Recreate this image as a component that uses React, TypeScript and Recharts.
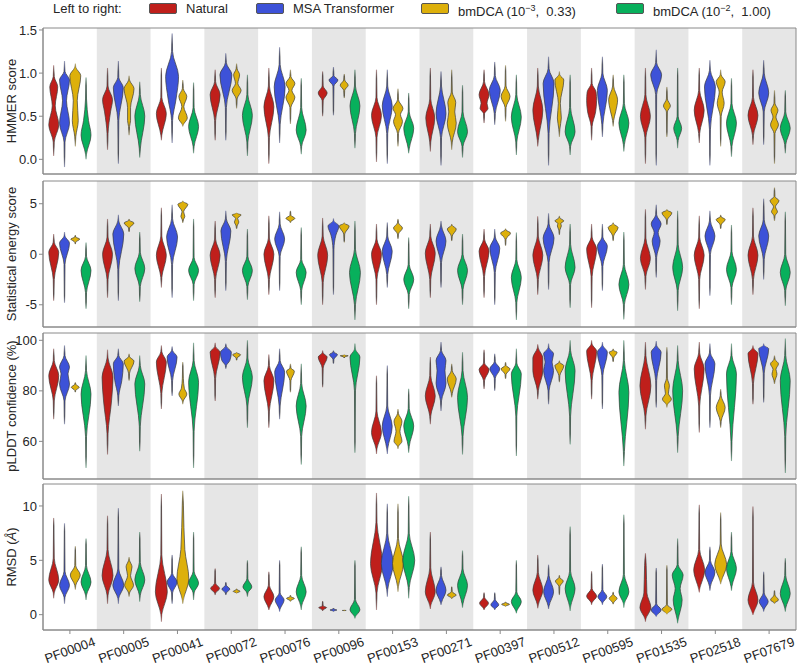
import React from "react";
import { Area, ComposedChart, ReferenceArea, XAxis, YAxis } from "recharts";

const FAMILIES = [
  "PF00004", "PF00005", "PF00041", "PF00072", "PF00076", "PF00096", "PF00153",
  "PF00271", "PF00397", "PF00512", "PF00595", "PF01535", "PF02518", "PF07679",
];

const METHOD_COLORS = ["#bf1f1b", "#3d52d8", "#ddb00b", "#08b05c"];
// dodge offsets of the four violins inside one family slot
const METHOD_OFFSETS = [-0.3, -0.1, 0.1, 0.3];

// Each violin: "low a  y:w y:w ...  b high" (bottom tail end, body start, knots of
// value:half-width, body end, top tail end). Half-widths are in 1/54 of a slot.
const HMMER_VIOLINS = [
  ["0.04 0.2 0.4:5 0.62:1.5 0.84:4 0.96 1.09", "-0.09 0.2 0.42:5 0.68:2 0.92:5 1.02 1.14", "0.15 0.26 0.45:3 0.68:2 0.97:5.5 1.07 1.11", "0.0 0.06 0.28:5 0.45:2.5 0.7 0.95"],
  ["0.11 0.3 0.55:3 0.69:5 0.85 1.06", "-0.05 0.45 0.83:5 0.95 1.14", "0.28 0.38 0.45:1.5 0.6:1.5 0.82:5 0.92 0.97", "0.02 0.12 0.5:5 0.75 0.9"],
  ["0.22 0.28 0.53:5 0.72 1.06", "0.19 0.45 0.7:4 0.96:6.5 1.25 1.46", "0.38 0.4 0.48:4.5 0.61:1 0.73:4 0.82 0.92", "0.07 0.15 0.38:5 0.6 0.89"],
  ["0.22 0.45 0.75:5 0.9 1.04", "0.22 0.6 0.98:6 1.12 1.23", "0.59 0.7 0.8:4.5 0.88:1.2 0.98:3 1.05 1.11", "0.04 0.2 0.51:5 0.75 0.98"],
  ["-0.05 0.25 0.61:5 0.85 1.06", "0.19 0.4 0.84:5.5 1.1 1.3", "0.41 0.6 0.72:4.5 0.8:1.5 0.88:4.5 0.96 1.04", "0.06 0.15 0.34:5 0.6 0.94"],
  ["0.5 0.68 0.77:4.5 0.85 1.02", "0.51 0.85 0.92:4.5 0.97 1.07", "0.71 0.8 0.86:4 0.92 0.99", "0.13 0.3 0.62:5 0.85 1.04"],
  ["-0.03 0.25 0.51:5 0.72 1.04", "-0.05 0.3 0.62:5 0.85 1.04", "0.15 0.3 0.44:4.5 0.52:2.5 0.59:5 0.69 0.82", "0.07 0.12 0.36:5 0.55 0.77"],
  ["0.09 0.2 0.48:4.5 0.7 1.06", "-0.07 0.25 0.53:5 0.85 1.02", "0.11 0.2 0.42:4.5 0.55:3 0.66:4 0.78 1.04", "0.02 0.15 0.32:5 0.55 0.86"],
  ["0.42 0.53 0.59:4 0.65:3 0.75:5 0.9 1.04", "0.4 0.53 0.8:5.5 0.97 1.13", "0.44 0.6 0.73:4.5 0.85 1.09", "0.05 0.2 0.49:5 0.75 0.98"],
  ["0.15 0.22 0.57:5 0.85 1.06", "-0.07 0.3 0.88:5.5 1.05 1.19", "0.26 0.35 0.48:2 0.65:1 0.92:4.5 0.98 1.02", "0.05 0.15 0.32:5 0.6 0.98"],
  ["0.22 0.38 0.55:4 0.68:5 0.78:4.5 0.88 1.06", "0.26 0.4 0.8:5 1.0 1.19", "0.38 0.45 0.55:2.5 0.69:4.5 0.85 0.98", "0.09 0.17 0.42:5 0.65 0.98"],
  ["-0.05 0.25 0.5:5 0.75 1.06", "-0.07 0.75 0.98:5.5 1.12 1.27", "0.26 0.55 0.62:3.5 0.7 0.84", "0.13 0.22 0.36:4 0.5 1.06"],
  ["0.19 0.3 0.57:5 0.8 1.06", "-0.07 0.35 0.84:5.5 1.03 1.15", "0.15 0.5 0.65:3.5 0.78:1.5 0.9:4.5 0.98 1.04", "0.03 0.15 0.42:5 0.65 0.94"],
  ["0.17 0.28 0.51:5 0.72 1.04", "0.17 0.55 0.77:5 1.0 1.15", "-0.05 0.3 0.4:4 0.49:1.5 0.57:3.5 0.65 0.8", "0.07 0.17 0.36:5 0.55 0.8"],
];

const ENERGY_VIOLINS = [
  ["-4.6 -2.5 0.2:5 1.2 2.0", "-4.8 -1.0 1.1:5 1.8 2.2", "1.0 1.2 1.5:4.5 1.7 1.9", "-5.4 -3.8 -1.6:5 -0.2 1.16"],
  ["-4.3 -2.5 0:5 1.7 3.5", "-4.6 -1.5 2.0:5.5 3.3 3.9", "2.2 2.6 3.1:5 3.35 3.5", "-4.7 -3.2 -1.4:5 0.2 2.2"],
  ["-3.3 -2.3 -0.1:5 1.8 4.6", "-4.3 -1.0 1.7:5.5 3.5 4.9", "3.1 3.4 3.75:2 4.2:0.8 4.95:5 5.2 5.3", "-4.6 -3.0 -1.6:5 -0.3 3.5"],
  ["-4.3 -2.5 -0.1:5 1.5 3.3", "-3.6 -0.7 2.3:5 3.5 4.3", "2.5 2.8 3.2:2.2 3.55:1 3.9:4.5 4.05 4.1", "-4.5 -3.2 -1.6:5 -0.2 2.5"],
  ["-4.0 -2.5 0:5 1.6 3.8", "-3.6 -0.2 1.5:5 3.0 4.2", "3.1 3.25 3.55:4.5 3.85 4.3", "-5.0 -3.6 -1.8:5 -0.5 2.65"],
  ["-5.0 -2.8 -0.1:5 1.8 3.6", "-4.0 0.5 1.9:2.5 2.8:5.5 3.3 3.55", "1.16 2.0 2.8:5 3.05 3.15", "-6.5 -5.0 -1.8:5.5 0.5 3.3"],
  ["-5.0 -2.5 0:5 1.5 3.0", "-3.3 -2.0 0.3:5 1.8 3.15", "1.5 2.0 2.6:4.5 3.1 3.5", "-5.4 -4.0 -2.5:5 -1.0 1.66"],
  ["-4.3 -2.5 0.1:5 1.8 3.0", "-3.3 -0.8 1.3:5 2.8 3.3", "1.3 1.8 2.5:4.5 2.85 3.0", "-5.0 -3.5 -1.6:5 0 2.0"],
  ["-4.3 -2.2 0.3:5 1.5 2.5", "-5.0 -1.8 0.6:5 1.7 2.5", "0.83 1.5 2.1:5 2.4 2.55", "-6.5 -4.8 -2.3:5 -0.5 2.15"],
  ["-4.0 -2.5 -0.1:5 1.8 3.75", "-3.5 -0.8 1.6:5.5 3.0 4.05", "1.9 2.4 2.8:2 3.05:1.5 3.3:4.5 3.6 3.8", "-5.3 -3.0 -1.3:5 1.0 3.0"],
  ["-5.3 -2.2 0.5:5 1.7 3.0", "-3.6 -1.2 0.8:5 1.7 3.0", "1.3 1.8 2.65:5 3.0 3.15", "-6.45 -5.0 -3.0:5 -1.0 2.2"],
  ["-3.5 -2.2 -0.4:5 1.6 4.45", "-2.3 -0.3 1.3:4 2.15:2 3.0:5 3.9 4.9", "2.9 3.4 4.1:5 4.35 4.45", "-5.6 -3.6 -1.3:5 1.0 4.3"],
  ["-5.4 -2.5 -0.1:5 1.7 3.8", "-4.1 0.0 1.8:5 3.3 4.3", "2.5 2.9 3.45:4.5 3.7 3.9", "-5.0 -3.3 -1.5:5 0.3 2.9"],
  ["-4.0 -2.5 -0.1:5 1.8 4.6", "-2.5 -0.5 1.8:5 3.4 5.5", "3.3 3.8 4.2:3 4.7:1 5.3:4.5 5.7 6.6", "-5.1 -3.6 -1.8:5 0 4.2"],
];

const PLDDT_VIOLINS = [
  ["68.8 76 86:5 92 96.7", "66.8 76 82.7:5 86.7:3.5 89.4:5 94 98", "79.4 80.2 81.4:4 82.6 83.4", "49.5 62 78.7:5 88 94"],
  ["54.8 63 76:4 85.4:5.5 93 96.3", "74 78 84:3.5 90.7:5 94 96.7", "84 87 91.8:5 93.5 94.7", "56.1 66 82.7:5 90 94"],
  ["72.8 79 91.4:5 95.5 98", "78 84 93.4:5 96 97.6", "74.7 76 78.7:4 81:1.5 85 91.4", "49.5 64 83.4:5 92 99"],
  ["76 85 95.3:5 97.5 99", "88.7 90 92:4 95.3:5.5 97.5 98.7", "92 93 94.3:4 95 95.3", "65.4 74 85.4:5 93 100"],
  ["65.4 72 84:5 90 94.4", "68.8 74 87.4:5 92 96.7", "79.4 84 87.8:4 89 90.7", "50.8 62 74:5 83 90.7"],
  ["81.4 89 93.4:4.5 95 96", "90.7 92.5 94.4:4 95.3 96", "93 93.4 93.9:4 94.2 94.4", "55.5 80 93.4:5 96.5 98.7"],
  ["55 57 63.5:5 72 86", "55 57 66:5 74 90", "57 58 60:4 64:2 68:4 71 72.8", "55.5 58 66.1:5 73 80.8"],
  ["66.8 70 78:5 86 93.4", "72 76 83:5 88:4 92:5 96 99.3", "77.4 79 84.7:4.5 88 90.7", "54.8 62 77.4:5 88 95.3"],
  ["80.7 84 88.4:5 91 96.3", "80 85 88.7:5 91.5 94.7", "84.7 86.5 88.7:4.5 90 91.4", "54.2 70 86.7:5 91 96.7"],
  ["76.7 80 88:5 93:5 97 98.4", "74.7 80 88:5 91.4:3.5 94.7:5 97 98.7", "83.4 86 90:4.5 91.2 92", "58.8 70 88:5 96 100"],
  ["76.7 84 95.7:5 98.5 100", "72.8 86 95.3:5 98 99.3", "91.4 93 95.3:4 96 96.7", "50.2 56 79.4:5 92 100"],
  ["64.8 70 82:5.5 94 99.3", "73.4 84 95.3:5 98 99.7", "73.4 74.5 76.7:4.5 79:1.5 82:2.5 85 97.3", "55.5 62 80:5 92 98"],
  ["63.5 74 88.7:5 95 99.3", "65.4 78 90.7:5 95 98.7", "65.4 68 73.4:4.5 78 80.7", "52.2 60 86.7:5 94 98.7"],
  ["74.7 83 94.7:5 97 98", "75.4 87 96.7:5 98 98.7", "82.7 84 86.7:2.5 88.5:1.5 90.7:4 92.5 94", "47.5 62 84:5 94 100.7"],
];

const RMSD_VIOLINS = [
  ["1.5 2.0 3.2:5 5.2 8.9", "1.0 1.6 2.7:5 4.0 8.4", "2.3 2.7 3.65:5 4.5 6.3", "1.35 1.8 3.0:5 4.5 7.0"],
  ["1.0 1.8 3.6:5.5 6.0 9.1", "1.0 1.5 2.7:5.5 4.2 9.8", "1.65 2.0 2.7:4.5 3.6:1.5 4.4:3 5.0 5.3", "1.2 1.8 3.2:5 4.8 7.6"],
  ["-0.65 0 2.1:6 5.5 11.1", "1.0 2.0 3.0:5 3.8 5.5", "1.0 1.3 3.3:6 6:2 10:0.6 11.4", "1.35 2.0 2.9:5 4.0 7.6"],
  ["1.8 2.0 2.4:4.5 2.9 4.25", "1.8 2.0 2.35:4 2.7 3.0", "1.95 2.0 2.15:3.5 2.3 2.4", "1.65 2.0 2.55:4.5 3.3 5.0"],
  ["0.43 0.6 1.65:5 2.7 3.95", "0.28 0.5 1.35:4.5 2.0 5.0", "1.2 1.3 1.5:4 1.65 1.8", "0.43 0.8 2.1:5 3.6 6.25"],
  ["0.34 0.45 0.65:4 0.8 1.25", "0.28 0.33 0.43:3.5 0.52 0.6", "0.34 0.36 0.4:2 0.43 0.46", "-0.35 -0.2 0.45:5 1.4 5.0"],
  ["0.43 2.0 4.7:6 8.5 11.2", "1.65 2.3 4.7:6 7.5 10.2", "2.1 2.6 4.7:5.5 7.0 10.2", "1.5 2.5 5.0:6 7.5 10.9"],
  ["0.52 0.8 2.1:5 4.3 7.6", "0.9 1.1 2.25:5 3.6 4.4", "1.45 1.55 1.8:4.5 2.1 2.6", "0.64 1.0 2.7:5 4.2 5.9"],
  ["0.43 0.55 1.05:4.5 1.6 2.05", "0.43 0.55 0.9:4 1.4 2.05", "0.74 0.8 0.95:4 1.1 1.2", "0.12 0.3 1.2:5 2.1 5.0"],
  ["0.58 0.9 2.25:5 3.9 5.5", "0.52 0.8 2.1:5 3.6 4.6", "1.8 2.6 3.1:4 3.4 3.65", "0.34 0.7 2.4:5 4.0 8.1"],
  ["0.9 1.1 1.7:5 2.4 4.0", "0.9 1.1 1.65:4.5 2.3 4.65", "0.95 1.1 1.5:4 1.85 2.1", "0.64 1.0 2.1:5 3.7 9.2"],
  ["-0.65 -0.4 0.65:5.5 2.0:1.5 4.5:0.8 5.65", "-0.18 -0.1 0.43:5 1.0 4.3", "0.03 0.1 0.5:5 0.9 4.55", "-0.8 -0.5 1.35:4.5 2.4:2.5 3.65:5.5 4.6 7.0"],
  ["2.05 2.3 4.1:5.5 6.0 10.1", "2.2 2.6 3.9:5 5.0 6.25", "2.8 3.0 4.6:6 6.5 9.4", "2.2 2.6 4.25:5 5.8 7.6"],
  ["-0.03 0.1 1.35:5 3.0 9.95", "0.28 0.5 1.2:4.5 2.0 3.95", "1.0 1.1 1.35:4 1.8 2.25", "0.28 0.6 1.95:5 3.6 5.2"],
];

const HMMER_TICKS = [0, 0.5, 1, 1.5];
const ENERGY_TICKS = [-5, 0, 5];
const PLDDT_TICKS = [60, 80, 100];
const RMSD_TICKS = [0, 5, 10];
const FAMILY_TICKS = FAMILIES.map((_, i) => i + 0.5);

const FONT = "'Liberation Sans', Arial, Helvetica, sans-serif";
const INK = "#262626";
const FRAME = "#8a8a8a";
const SLOT_UNIT = 1 / 54;

type Knot = [number, number];

function parseViolin(spec: string): Knot[] {
  const tokens = spec.trim().split(/\s+/);
  const isKnot = (t: string) => t.includes(":");
  const first = tokens.findIndex(isKnot);
  let last = first;
  tokens.forEach((t, i) => {
    if (isKnot(t)) last = i;
  });
  const head = tokens.slice(0, first).map(Number);
  const body = tokens.slice(first, last + 1).map((t) => t.split(":").map(Number) as Knot);
  const tail = tokens.slice(last + 1).map(Number);
  const headW = head.length === 2 ? [0.15, 0.5] : [0.15];
  const tailW = tail.length === 2 ? [0.5, 0.15] : [0.15];
  return [
    ...head.map((y, i) => [y, headW[i]] as Knot),
    ...body,
    ...tail.map((y, i) => [y, tailW[i]] as Knot),
  ];
}

function violinRows(spec: string, center: number) {
  return parseViolin(spec)
    .map(([y, w]) => ({ y, span: [center - w * SLOT_UNIT, center + w * SLOT_UNIT] }))
    .reverse();
}

function AxisTitle(props: any) {
  const vb = props.viewBox;
  if (!vb) return null;
  const x = vb.x + 11;
  const y = vb.y + vb.height / 2;
  return (
    <text
      x={x}
      y={y}
      transform={`rotate(-90, ${x}, ${y})`}
      textAnchor="middle"
      dominantBaseline="central"
      fontSize={13}
      fontFamily={FONT}
      fill={INK}
    >
      {props.title}
      {props.italic ? <tspan fontStyle="italic">{props.italic}</tspan> : null}
      {props.after}
    </text>
  );
}

function FamilyTick(props: any) {
  const { x, y, payload } = props;
  const name = FAMILIES[Math.floor(payload.value)];
  const ty = y + 14;
  return (
    <text
      x={x}
      y={ty}
      transform={`rotate(-20, ${x}, ${ty})`}
      textAnchor="middle"
      dominantBaseline="central"
      fontSize={13}
      fontFamily={FONT}
      fill={INK}
    >
      {name}
    </text>
  );
}

type PanelDef = {
  violins: string[][];
  domain: [number, number];
  ticks: number[];
  top: number;
  fmt: (v: number) => string;
  title: string;
  italic?: string;
  after?: string;
};

const PANELS: PanelDef[] = [
  { violins: HMMER_VIOLINS, domain: [-0.17, 1.523], ticks: HMMER_TICKS, top: 28, fmt: (v) => v.toFixed(1), title: "HMMER score" },
  { violins: ENERGY_VIOLINS, domain: [-7.2, 7.25], ticks: ENERGY_TICKS, top: 180.5, fmt: (v) => String(v), title: "Statistical energy score" },
  { violins: PLDDT_VIOLINS, domain: [45.1, 102.9], ticks: PLDDT_TICKS, top: 332.5, fmt: (v) => String(v), title: "pLDDT confidence (%)" },
  { violins: RMSD_VIOLINS, domain: [-1.41, 12.02], ticks: RMSD_TICKS, top: 484, fmt: (v) => String(v), title: "RMSD (", italic: "Å", after: ")" },
];

function ViolinPanel({ panel, last }: { panel: PanelDef; last: boolean }) {
  const plotH = 146;
  const pad = 8;
  const axisH = last ? 46 : 6;
  return (
    <div style={{ position: "absolute", left: 0, top: panel.top - pad }}>
      <ComposedChart
        layout="vertical"
        width={797}
        height={plotH + axisH + pad}
        margin={{ top: pad, right: 1, bottom: 0, left: 0 }}
      >
        <defs>
          <linearGradient id="tailFade" x1="0" y1="0" x2="0" y2="1">
            <stop offset="0" stopColor="#3a3a3a" stopOpacity={0.25} />
            <stop offset="0.1" stopColor="#3a3a3a" stopOpacity={1} />
            <stop offset="0.9" stopColor="#3a3a3a" stopOpacity={1} />
            <stop offset="1" stopColor="#3a3a3a" stopOpacity={0.25} />
          </linearGradient>
        </defs>
        <XAxis
          type="number"
          domain={[0, 14]}
          ticks={FAMILY_TICKS}
          interval={0}
          allowDataOverflow
          height={axisH}
          tickSize={4}
          stroke={FRAME}
          tick={last ? <FamilyTick /> : false}
        />
        <YAxis
          type="number"
          dataKey="y"
          reversed
          domain={panel.domain}
          ticks={panel.ticks}
          interval={0}
          allowDataOverflow
          width={43}
          tickSize={4}
          stroke={FRAME}
          tick={{ fill: INK, fontSize: 13, fontFamily: FONT }}
          tickFormatter={panel.fmt}
          label={<AxisTitle title={panel.title} italic={panel.italic} after={panel.after} />}
        />
        {FAMILIES.map((f, i) =>
          i % 2 === 1 ? (
            <ReferenceArea key={`band-${f}`} x1={i} x2={i + 1} fill="#e6e6e6" fillOpacity={1} stroke="none" />
          ) : null
        )}
        {panel.violins.flatMap((group, i) =>
          group.map((spec, m) => (
            <Area
              key={`${FAMILIES[i]}-${m}`}
              data={violinRows(spec, i + 0.5 + METHOD_OFFSETS[m])}
              dataKey="span"
              type="monotone"
              fill={METHOD_COLORS[m]}
              fillOpacity={1}
              stroke="url(#tailFade)"
              strokeWidth={0.7}
              dot={false}
              activeDot={false}
              isAnimationActive={false}
            />
          ))
        )}
        <ReferenceArea
          x1={0}
          x2={14}
          y1={panel.domain[0]}
          y2={panel.domain[1]}
          fill="none"
          stroke={FRAME}
          strokeWidth={1}
        />
      </ComposedChart>
    </div>
  );
}

const LEGEND_ITEMS = [
  { color: METHOD_COLORS[0], left: 149, label: <>Natural</> },
  { color: METHOD_COLORS[1], left: 256, label: <>MSA Transformer</> },
  {
    color: METHOD_COLORS[2],
    left: 421,
    label: (
      <>
        bmDCA (10<sup style={{ fontSize: 9 }}>−3</sup>,&nbsp; 0.33)
      </>
    ),
  },
  {
    color: METHOD_COLORS[3],
    left: 616,
    label: (
      <>
        bmDCA (10<sup style={{ fontSize: 9 }}>−2</sup>,&nbsp; 1.00)
      </>
    ),
  },
];

export default function App() {
  return (
    <div
      style={{
        position: "absolute",
        left: 0,
        top: 0,
        width: 797,
        height: 672,
        background: "#fff",
        fontFamily: FONT,
        color: INK,
        overflow: "hidden",
      }}
    >
      <div style={{ position: "absolute", left: 53, top: 0, fontSize: 13, lineHeight: "17px" }}>Left to right:</div>
      {LEGEND_ITEMS.map((it) => (
        <React.Fragment key={it.left}>
          <div
            style={{
              position: "absolute",
              left: it.left,
              top: 3,
              width: 26,
              height: 9,
              background: it.color,
              border: "1px solid #555",
              borderRadius: 2,
            }}
          />
          <div style={{ position: "absolute", left: it.left + 37, top: 0, fontSize: 13, lineHeight: "17px", whiteSpace: "nowrap" }}>
            {it.label}
          </div>
        </React.Fragment>
      ))}
      {PANELS.map((p, i) => (
        <ViolinPanel key={p.title} panel={p} last={i === PANELS.length - 1} />
      ))}
    </div>
  );
}
